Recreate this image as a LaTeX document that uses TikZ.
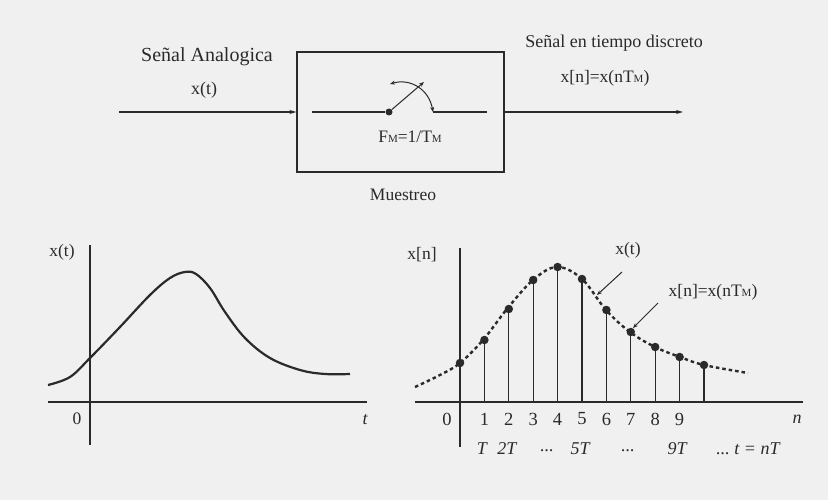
\documentclass[tikz,border=0pt]{standalone}
\usepackage{fontspec}
\setmainfont{Liberation Serif}
\usetikzlibrary{arrows.meta,positioning,calc}
\definecolor{fondo}{HTML}{F0F0F0}
\definecolor{tinta}{HTML}{2A2A2A}
\newcommand\chica[1]{{\fontsize{11}{12}\selectfont #1}}
\tikzset{
  caja/.style={draw=tinta,line width=1.2pt,minimum width=207pt,minimum height=120pt,inner sep=0pt},
  flecha/.style={-{Stealth[length=7pt,width=4pt]},line width=1.2pt,tinta},
  flechita/.style={-{Stealth[length=5pt,width=4pt]},line width=1pt,tinta},
  etiqueta/.style={font=\fontsize{17.5}{19}\selectfont,text=tinta,inner sep=1pt},
  numero/.style={font=\fontsize{18}{19}\selectfont\itshape,text=tinta,inner sep=1pt},
  eje/.style={line width=1.3pt,tinta},
  curva/.style={line width=2.2pt,tinta},
  puntos/.style={line width=2.4pt,tinta,dash pattern=on 3.5pt off 3pt},
  tallo/.style={line width=1.1pt,tinta},
  punto/.style={circle,fill=tinta,minimum size=8.5pt,inner sep=0pt},
}
\begin{document}
\begin{tikzpicture}[x=1pt,y=-1pt]
  \fill[fondo] (0,0) rectangle (828,500);
  \useasboundingbox (0,0) rectangle (828,500);
  % bloque de muestreo
  \node[caja] (muestreo) at (400.5,112) {};
  \coordinate (entrada) at (119,112);
  \coordinate (salida) at (683,112);
  \draw[flecha] (entrada) -- (muestreo);
  \draw[flecha] (muestreo) -- (salida);
  \node[etiqueta,font=\fontsize{20}{22}\selectfont] (analogica) at (207,57) {Señal Analogica};
  \node[etiqueta,font=\fontsize{18}{20}\selectfont] (xt) at (204,90) {x(t)};
  \node[etiqueta,font=\fontsize{18}{20}\selectfont] (discreta) at (614,43) {Señal en tiempo discreto};
  \node[etiqueta] (xn) at (605,78) {x[n]=x(nT\chica{M})};
  \node[etiqueta] (frec) at (410,137) {F\chica{M}=1/T\chica{M}};
  \node[etiqueta] (nombre) at (403,195) {Muestreo};
  % interruptor
  \coordinate (s1) at (312,112);
  \node[punto,minimum size=7pt] (pivote) at (389,112) {};
  \coordinate (contacto) at (433,112);
  \coordinate (s2) at (487,112);
  \coordinate (brazo) at (424,82);
  \draw[eje] (s1) -- (pivote);
  \draw[eje] (contacto) -- (s2);
  \draw[flechita] (pivote) -- (brazo);
  \draw[flechita,{Stealth[length=5pt,width=4pt]}-{Stealth[length=5pt,width=4pt]}] (390,84) .. controls (410,78) and (429,89) .. (contacto);
  % senal analogica
  \coordinate (o1) at (90,402);
  \draw[eje] (o1 |- 0,245) -- (o1 |- 0,445);
  \draw[eje] (48,402) -- (367,402);
  \node[etiqueta] (ejext) at (62,252) {x(t)};
  \node[etiqueta] (cero1) at (77,419) {0};
  \node[numero] (tt) at (365,420) {t};
  \draw[curva] plot[smooth,tension=0.6] coordinates {(48,385) (70,377) (90,358) (120,327) (150,295) (170,278) (185,272) (196,274) (210,288) (225,312) (245,338) (270,358) (300,370) (325,374) (350,374)};
  % senal discreta
  \coordinate (o2) at (460,402);
  \draw[eje] (o2 |- 0,248) -- (o2 |- 0,447);
  \draw[eje] (415,402) -- (803,402);
  \node[etiqueta] (ejexn) at (422,255) {x[n]};
  \draw[puntos] plot[smooth,tension=0.6] coordinates {(415,387) (440,375) (460,363) (483,340) (507,309) (533,280) (557,267) (582,279) (606,310) (630,332) (655,347) (680,357) (704,365) (748,373)};
  \foreach \n/\y in {0/363,1/340,2/309,3/280,4/267,5/279,6/310,7/332,8/347,9/357,10/365} {
    \pgfmathsetmacro\x{460+24.4*\n}
    \node[punto] (p\n) at (\x,\y) {};
    \draw[tallo] (\x,402) -- (p\n.center);
  }
  \node[etiqueta,font=\fontsize{18.5}{20}\selectfont] (n0) at (447,419) {0};
  \foreach \n in {1,...,9} {
    \node[etiqueta,font=\fontsize{18.5}{20}\selectfont] (n\n) at (460+24.4*\n,419) {\n};
  }
  \node[numero] (nn) at (797,419) {n};
  \node[numero] (r1) at (482,449) {T};
  \node[numero] (r2) at (507,449) {2T};
  \node[numero] (r3) at (547,451) {...};
  \node[numero] (r5) at (580,449) {5T};
  \node[numero] (r6) at (628,451) {...};
  \node[numero] (r9) at (677,449) {9T};
  \node[numero] (rt) at (748,449) {...\ t = nT};
  % rotulos con flecha
  \node[etiqueta] (lxt) at (628,250) {x(t)};
  \coordinate (a1) at (622,272);
  \coordinate (b1) at (597,295);
  \draw[flechita] (a1) -- (b1);
  \node[etiqueta] (lxn) at (713,292) {x[n]=x(nT\chica{M})};
  \coordinate (a2) at (658,303);
  \coordinate (b2) at (633,328);
  \draw[flechita] (a2) -- (b2);
\end{tikzpicture}
\end{document}
